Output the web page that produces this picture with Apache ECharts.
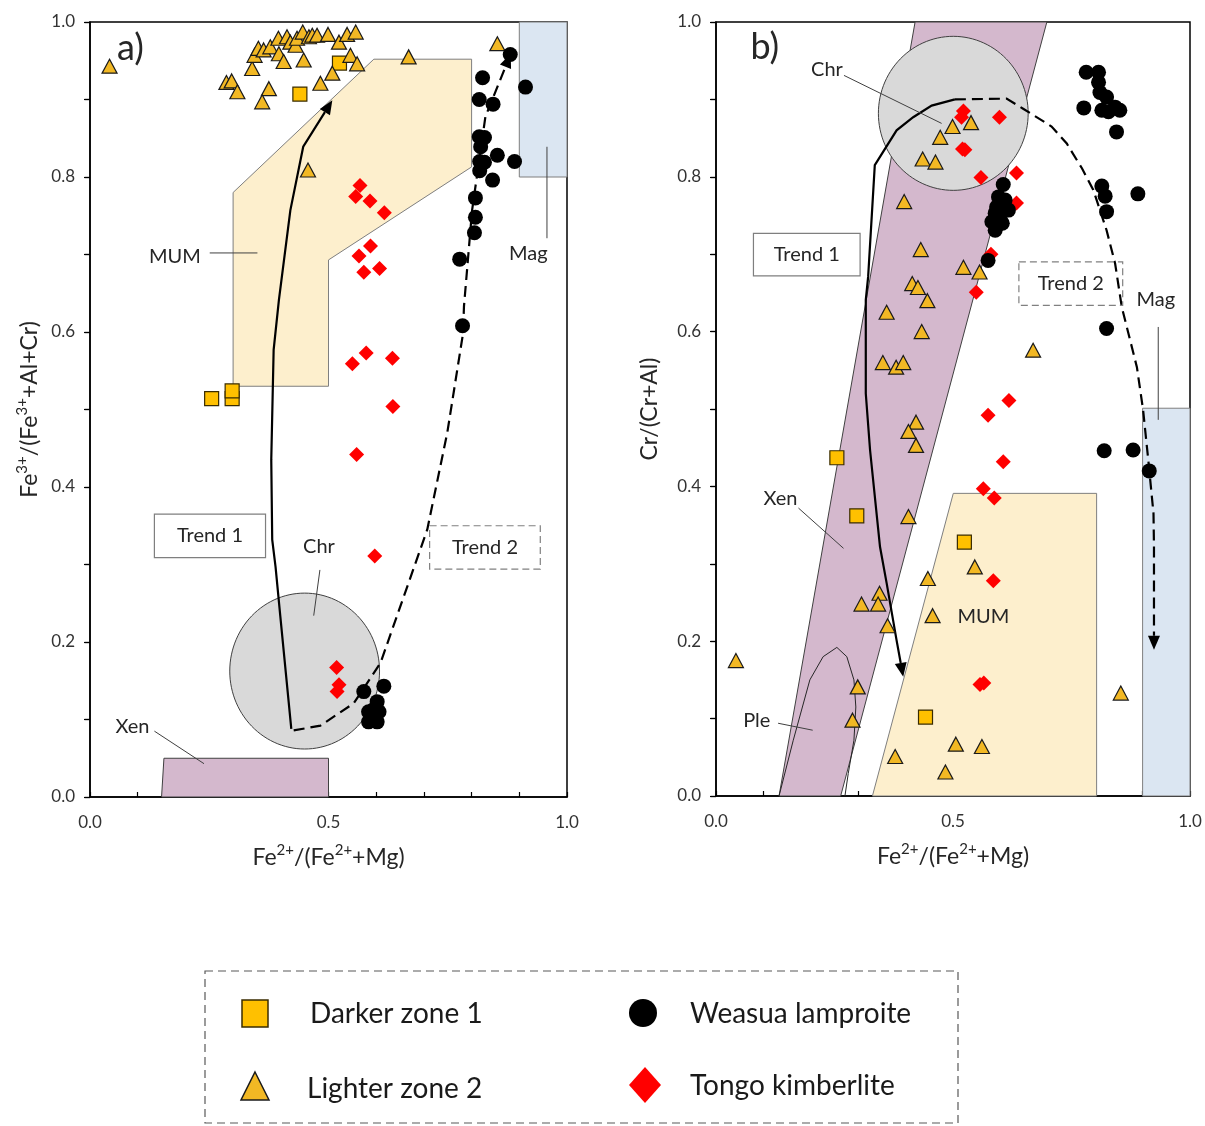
<!DOCTYPE html>
<html>
<head>
<meta charset="utf-8">
<title>Spinel compositions – Weasua lamproite and Tongo kimberlite</title>
<script src="https://cdn.jsdelivr.net/npm/echarts/dist/echarts.min.js"></script>
<style>
  html, body { margin: 0; padding: 0; background: #fff; }
  #chart { width: 1205px; height: 1126px; }
</style>
</head>
<body>
<div id="chart"></div>
<script>
// ---------- Panel a: Fe2+/(Fe2++Mg) vs Fe3+/(Fe3++Al+Cr) ----------
const aDarkerZone1 = [[0.523,0.947],[0.440,0.907],[0.255,0.514],[0.298,0.514],[0.298,0.524]];
const aLighterZone2 = [
  [0.041,0.943],[0.286,0.922],[0.297,0.924],[0.309,0.910],[0.340,0.940],[0.345,0.957],
  [0.353,0.966],[0.364,0.964],[0.378,0.968],[0.395,0.979],[0.396,0.959],[0.406,0.949],
  [0.413,0.981],[0.420,0.974],[0.431,0.970],[0.434,0.979],[0.446,0.987],[0.448,0.951],
  [0.459,0.981],[0.466,0.983],[0.476,0.983],[0.499,0.984],[0.522,0.974],[0.539,0.984],
  [0.557,0.987],[0.546,0.957],[0.560,0.946],[0.508,0.934],[0.483,0.921],[0.375,0.914],
  [0.361,0.897],[0.668,0.955],[0.854,0.972],[0.457,0.809]
];
const aWeasua = [
  [0.881,0.958],[0.913,0.916],[0.823,0.928],[0.816,0.900],[0.845,0.894],[0.816,0.852],
  [0.827,0.851],[0.819,0.839],[0.854,0.828],[0.890,0.820],[0.817,0.820],[0.827,0.819],
  [0.817,0.808],[0.844,0.796],[0.808,0.773],[0.808,0.748],[0.806,0.728],[0.775,0.694],
  [0.781,0.608],
  [0.574,0.136],[0.616,0.143],[0.602,0.123],[0.595,0.113],[0.606,0.110],[0.584,0.110],
  [0.584,0.097],[0.602,0.097]
];
const aTongo = [
  [0.566,0.789],[0.557,0.775],[0.587,0.769],[0.617,0.754],[0.588,0.711],[0.564,0.698],
  [0.607,0.682],[0.574,0.677],[0.579,0.573],[0.550,0.559],[0.634,0.566],[0.635,0.504],
  [0.559,0.442],[0.597,0.311],[0.517,0.167],[0.522,0.145],[0.518,0.136]
];

// ---------- Panel b: Fe2+/(Fe2++Mg) vs Cr/(Cr+Al) ----------
const bDarkerZone1 = [[0.255,0.437],[0.297,0.362],[0.524,0.328],[0.442,0.102]];
const bLighterZone2 = [
  [0.499,0.865],[0.538,0.870],[0.473,0.851],[0.436,0.823],[0.463,0.819],[0.397,0.768],
  [0.432,0.706],[0.522,0.683],[0.556,0.677],[0.414,0.662],[0.426,0.657],[0.446,0.640],
  [0.360,0.625],[0.434,0.600],[0.352,0.560],[0.380,0.554],[0.395,0.560],[0.422,0.483],
  [0.406,0.471],[0.422,0.453],[0.669,0.576],[0.406,0.361],[0.546,0.296],[0.447,0.281],
  [0.345,0.262],[0.307,0.248],[0.342,0.248],[0.457,0.233],[0.362,0.220],[0.042,0.175],
  [0.299,0.141],[0.288,0.098],[0.854,0.133],[0.506,0.067],[0.561,0.064],[0.378,0.051],
  [0.484,0.031]
];
const bWeasua = [
  [0.781,0.935],[0.807,0.935],[0.807,0.922],[0.810,0.909],[0.824,0.903],[0.776,0.889],
  [0.814,0.886],[0.828,0.884],[0.852,0.886],[0.842,0.890],[0.845,0.858],[0.814,0.788],
  [0.821,0.775],[0.824,0.755],[0.890,0.778],[0.606,0.790],[0.596,0.774],[0.610,0.770],
  [0.617,0.757],[0.592,0.761],[0.589,0.753],[0.599,0.748],[0.582,0.742],[0.604,0.740],
  [0.589,0.731],[0.574,0.692],[0.824,0.604],[0.819,0.446],[0.880,0.447],[0.914,0.420]
];
const bTongo = [
  [0.522,0.885],[0.518,0.877],[0.598,0.877],[0.520,0.836],[0.525,0.835],[0.559,0.799],
  [0.634,0.805],[0.634,0.766],[0.580,0.700],[0.549,0.651],[0.618,0.511],[0.574,0.492],
  [0.606,0.432],[0.564,0.397],[0.587,0.385],[0.585,0.278],[0.557,0.144],[0.565,0.146]
];

// ---------- Compositional fields ----------
const aFieldMUM = [[0.3,0.78],[0.595,0.952],[0.8,0.952],[0.8,0.813],[0.5,0.693],[0.5,0.53],[0.3,0.53]];
const aFieldMag = [[0.9,0.8],[1.0,0.8],[1.0,1.0],[0.9,1.0]];
const aFieldXen = [[0.15,0],[0.5,0],[0.5,0.05],[0.155,0.05]];
const aFieldChr = { centre: [0.45,0.1625], radius: [0.157,0.1006] };

const bFieldXen = [[0.133,0],[0.263,0],[0.698,1],[0.420,1]];
const bFieldMUM = [[0.330,0],[0.803,0],[0.803,0.391],[0.5006,0.391]];
const bFieldMag = [[0.9,0],[1.0,0],[1.0,0.501],[0.9,0.501]];
const bFieldChr = { centre: [0.5006,0.882], radius: [0.158,0.0995] };
const bFieldPle = [[0.133,0],[0.163,0.072],[0.198,0.150],[0.226,0.180],[0.255,0.192],[0.276,0.180],
                   [0.291,0.150],[0.295,0.115],[0.291,0.072],[0.279,0.029],[0.272,0]];

// ---------- Evolution trends ----------
const aTrend1 = [[0.422,0.088],[0.399,0.233],[0.389,0.297],[0.382,0.332],[0.380,0.435],[0.385,0.577],
                 [0.396,0.641],[0.420,0.757],[0.447,0.839],[0.508,0.899]];
const aTrend2 = [[0.427,0.086],[0.483,0.092],[0.553,0.121],[0.609,0.173],[0.707,0.345],[0.749,0.470],
                 [0.782,0.598],[0.784,0.633],[0.801,0.757],[0.819,0.835],[0.829,0.878],[0.882,0.959]];
const bTrend1 = [[0.504,0.900],[0.455,0.892],[0.416,0.877],[0.381,0.860],[0.335,0.815],[0.321,0.671],
                 [0.316,0.641],[0.316,0.520],[0.325,0.447],[0.346,0.322],[0.360,0.275],[0.381,0.201],
                 [0.395,0.154]];
const bTrend2 = [[0.504,0.900],[0.613,0.901],[0.648,0.888],[0.708,0.865],[0.740,0.843],[0.772,0.811],
                 [0.796,0.783],[0.824,0.731],[0.842,0.688],[0.856,0.632],[0.888,0.554],[0.901,0.499],
                 [0.912,0.434],[0.923,0.365],[0.924,0.322],[0.924,0.189]];

// ---------- Field labels and trend boxes (data coordinates) ----------
const aNotes = [
  { text: 'a)', at: [0.085,0.966], size: 36 },
  { text: 'MUM', at: [0.178,0.697], lead: [[0.251,0.702],[0.351,0.702]] },
  { text: 'Mag', at: [0.919,0.701], lead: [[0.958,0.839],[0.958,0.721]] },
  { text: 'Xen', at: [0.089,0.091], lead: [[0.135,0.085],[0.239,0.043]] },
  { text: 'Chr', at: [0.480,0.323], lead: [[0.482,0.293],[0.469,0.234]] },
  { text: 'Trend 1', at: [0.2515,0.337], box: [[0.135,0.365],[0.368,0.309]] },
  { text: 'Trend 2', at: [0.828,0.322], box: [[0.712,0.350],[0.944,0.294]], dashed: true }
];
const bNotes = [
  { text: 'b)', at: [0.103,0.967], size: 36 },
  { text: 'Chr', at: [0.234,0.938], lead: [[0.270,0.931],[0.476,0.869]] },
  { text: 'Mag', at: [0.928,0.641], lead: [[0.933,0.606],[0.933,0.486]] },
  { text: 'Xen', at: [0.136,0.384], lead: [[0.174,0.372],[0.269,0.320]] },
  { text: 'MUM', at: [0.564,0.232] },
  { text: 'Ple', at: [0.086,0.098], lead: [[0.131,0.094],[0.204,0.085]] },
  { text: 'Trend 1', at: [0.1915,0.6995], box: [[0.079,0.727],[0.304,0.672]] },
  { text: 'Trend 2', at: [0.7485,0.662], box: [[0.639,0.690],[0.858,0.634]], dashed: true }
];

const FONT = 'Lato, "Open Sans", "Noto Sans", sans-serif';
const TEXT = '#262626';
const COL = {
  mum: '#fdefcd', mag: '#dbe6f2', xen: '#d4b8cd', chr: '#d9d9d9',
  tri: '#f2b824', sq: '#ffc000', dia: '#ff0000', dot: '#000000'
};

// ---------- Custom renderers ----------
function polygonSeries(axis, pts, fill, stroke, z, closed) {
  return {
    type: 'custom', xAxisIndex: axis, yAxisIndex: axis, z: z, silent: true,
    data: pts,
    renderItem: function (params, api) {
      if (params.dataIndex !== 0) return null;
      const p = pts.map(function (d) { return api.coord(d); });
      return {
        type: closed === false ? 'polyline' : 'polygon',
        shape: { points: p },
        style: { fill: fill, stroke: stroke, lineWidth: 1 }
      };
    }
  };
}

function discSeries(axis, field, z) {
  return {
    type: 'custom', xAxisIndex: axis, yAxisIndex: axis, z: z, silent: true,
    data: [field.centre],
    renderItem: function (params, api) {
      const c = api.coord(field.centre);
      const rx = api.size([field.radius[0], 0])[0];
      const ry = api.size([0, field.radius[1]])[1];
      const p = [];
      for (let i = 0; i < 120; i++) {
        const t = i / 120 * Math.PI * 2;
        p.push([c[0] + rx * Math.cos(t), c[1] + ry * Math.sin(t)]);
      }
      return { type: 'polygon', shape: { points: p },
               style: { fill: COL.chr, stroke: '#404040', lineWidth: 1 } };
    }
  };
}

function trendSeries(axis, pts, dashed) {
  return {
    type: 'custom', xAxisIndex: axis, yAxisIndex: axis, z: 4, silent: true,
    data: pts,
    renderItem: function (params, api) {
      if (params.dataIndex !== 0) return null;
      const p = pts.map(function (d) { return api.coord(d); });
      const tip = p[p.length - 1], prev = p[p.length - 2];
      const dx = tip[0] - prev[0], dy = tip[1] - prev[1];
      const len = Math.sqrt(dx * dx + dy * dy);
      const ux = dx / len, uy = dy / len;
      const headL = 14, headW = 6;
      const base = [tip[0] - ux * headL, tip[1] - uy * headL];
      const line = p.slice(0, -1).concat([base]);
      return {
        type: 'group',
        children: [
          { type: 'polyline', shape: { points: line },
            style: { fill: 'none', stroke: '#000', lineWidth: 2.2, lineDash: dashed ? [11, 6] : null } },
          { type: 'polygon',
            shape: { points: [tip, [base[0] - uy * headW, base[1] + ux * headW], [base[0] + uy * headW, base[1] - ux * headW]] },
            style: { fill: '#000', stroke: null } }
        ]
      };
    }
  };
}

function noteSeries(axis, notes) {
  return {
    type: 'custom', xAxisIndex: axis, yAxisIndex: axis, z: 4, silent: true,
    data: notes.map(function (n) { return n.at; }),
    renderItem: function (params, api) {
      const n = notes[params.dataIndex];
      const c = api.coord(n.at);
      const kids = [{
        type: 'text', x: c[0], y: c[1],
        style: { text: n.text, fill: TEXT, fontSize: n.size || 20, fontFamily: FONT,
                 align: 'center', verticalAlign: 'middle' }
      }];
      if (n.lead) {
        const a = api.coord(n.lead[0]), b = api.coord(n.lead[1]);
        kids.push({ type: 'line', shape: { x1: a[0], y1: a[1], x2: b[0], y2: b[1] },
                    style: { stroke: '#404040', lineWidth: 1 } });
      }
      if (n.box) {
        const a = api.coord(n.box[0]), b = api.coord(n.box[1]);
        kids.push({ type: 'rect',
                    shape: { x: Math.min(a[0], b[0]), y: Math.min(a[1], b[1]),
                             width: Math.abs(b[0] - a[0]), height: Math.abs(b[1] - a[1]) },
                    style: { fill: 'none', stroke: n.dashed ? '#808080' : '#7f7f7f', lineWidth: 1.2,
                             lineDash: n.dashed ? [7, 4] : null } });
      }
      return { type: 'group', children: kids };
    }
  };
}

function scatter(axis, name, data, symbol, size, fill, stroke) {
  return {
    type: 'scatter', name: name, xAxisIndex: axis, yAxisIndex: axis, z: 6,
    data: data, symbol: symbol, symbolSize: size,
    itemStyle: { color: fill, borderColor: stroke || fill, borderWidth: stroke ? 1.2 : 0, opacity: 1 }
  };
}

// ---------- Axes ----------
const supRich = {
  n: { fontSize: 23, lineHeight: 30, fontFamily: FONT, color: TEXT },
  s: { fontSize: 15, lineHeight: 16, verticalAlign: 'top', fontFamily: FONT, color: TEXT }
};
const xName = '{n|Fe}{s|2+}{n|/(Fe}{s|2+}{n|+Mg)}';

function onEvery(v, k) {
  const t = Math.round(v * 10);
  return Math.abs(v * 10 - t) < 1e-6 && t % k === 0;
}

function xAxisFor(g) {
  return {
    type: 'value', gridIndex: g, min: 0, max: 1, interval: 0.1,
    name: xName, nameLocation: 'middle', nameGap: 46,
    nameTextStyle: { rich: supRich },
    axisLine: { onZero: false, lineStyle: { color: '#000', width: 1.5 } },
    axisTick: { inside: true, length: 5, lineStyle: { color: '#000', width: 1.2 } },
    axisLabel: { color: '#333', fontSize: 17, fontFamily: FONT, margin: 17,
                 formatter: function (v) { return onEvery(v, 5) ? v.toFixed(1) : ''; } },
    splitLine: { show: false }
  };
}

function yAxisFor(g, name, gap) {
  return {
    type: 'value', gridIndex: g, min: 0, max: 1, interval: 0.1,
    name: name, nameLocation: 'middle', nameGap: gap, nameRotate: 90,
    nameTextStyle: { rich: supRich },
    axisLine: { onZero: false, lineStyle: { color: '#000', width: 1.5 } },
    axisTick: { inside: false, length: 6, lineStyle: { color: '#000', width: 1.2 } },
    axisLabel: { color: '#333', fontSize: 17, fontFamily: FONT, margin: 15,
                 formatter: function (v) { return onEvery(v, 2) ? v.toFixed(1) : ''; } },
    splitLine: { show: false }
  };
}

// inner half of the y ticks, so they cross the axis line
function yInnerTicks(g) {
  return {
    type: 'value', gridIndex: g, min: 0, max: 1, interval: 0.1,
    axisLine: { show: false },
    axisTick: { inside: true, length: 5, lineStyle: { color: '#000', width: 1.2 } },
    axisLabel: { show: false }, splitLine: { show: false }
  };
}

const series = [
  // panel a
  polygonSeries(0, aFieldMUM, COL.mum, '#7f7f7f', 1),
  polygonSeries(0, aFieldMag, COL.mag, '#7f7f7f', 1),
  polygonSeries(0, aFieldXen, COL.xen, '#404040', 1),
  discSeries(0, aFieldChr, 2),
  trendSeries(0, aTrend1, false),
  trendSeries(0, aTrend2, true),
  noteSeries(0, aNotes),
  scatter(0, 'Darker zone 1', aDarkerZone1, 'rect', 14, COL.sq, '#3a2c00'),
  scatter(0, 'Lighter zone 2', aLighterZone2, 'triangle', [15, 14], COL.tri, '#1a1a1a'),
  scatter(0, 'Tongo kimberlite', aTongo, 'diamond', 15, COL.dia),
  scatter(0, 'Weasua lamproite', aWeasua, 'circle', 15, COL.dot),
  // panel b
  polygonSeries(1, bFieldXen, COL.xen, '#404040', 1),
  polygonSeries(1, bFieldMUM, COL.mum, '#7f7f7f', 1),
  polygonSeries(1, bFieldMag, COL.mag, '#7f7f7f', 1),
  polygonSeries(1, bFieldPle, 'none', '#262626', 2, false),
  discSeries(1, bFieldChr, 2),
  trendSeries(1, bTrend1, false),
  trendSeries(1, bTrend2, true),
  noteSeries(1, bNotes),
  scatter(1, 'Darker zone 1', bDarkerZone1, 'rect', 14, COL.sq, '#3a2c00'),
  scatter(1, 'Lighter zone 2', bLighterZone2, 'triangle', [15, 14], COL.tri, '#1a1a1a'),
  scatter(1, 'Tongo kimberlite', bTongo, 'diamond', 15, COL.dia),
  scatter(1, 'Weasua lamproite', bWeasua, 'circle', 15, COL.dot)
];

// ---------- Legend (drawn as a boxed key under both panels) ----------
const legendItems = [
  { label: 'Darker zone 1', shape: 'square', fill: COL.sq, stroke: '#3a2c00', cx: 255, cy: 1013, tx: 310 },
  { label: 'Lighter zone 2', shape: 'triangle', fill: COL.tri, stroke: '#1a1a1a', cx: 255, cy: 1088, tx: 307 },
  { label: 'Weasua lamproite', shape: 'circle', fill: COL.dot, cx: 643, cy: 1013, tx: 690 },
  { label: 'Tongo kimberlite', shape: 'diamond', fill: COL.dia, cx: 645, cy: 1085, tx: 690 }
];
const legendGraphics = [{
  type: 'rect', shape: { x: 205, y: 971, width: 753, height: 152 },
  style: { fill: 'none', stroke: '#595959', lineWidth: 1.2, lineDash: [8, 5] }
}];
legendItems.forEach(function (it) {
  const x = it.cx, y = it.cy;
  let g;
  if (it.shape === 'square') {
    g = { type: 'rect', shape: { x: x - 13, y: y - 13, width: 26, height: 27 } };
  } else if (it.shape === 'triangle') {
    g = { type: 'polygon', shape: { points: [[x, y - 16], [x + 14, y + 12], [x - 14, y + 12]] } };
  } else if (it.shape === 'circle') {
    g = { type: 'circle', shape: { cx: x, cy: y, r: 14 } };
  } else {
    g = { type: 'polygon', shape: { points: [[x, y - 18], [x + 16, y], [x, y + 18], [x - 16, y]] } };
  }
  g.style = { fill: it.fill, stroke: it.stroke || null, lineWidth: 1.5 };
  legendGraphics.push(g);
  legendGraphics.push({
    type: 'text', x: it.tx, y: y + 1,
    style: { text: it.label, fill: '#1a1a1a', fontSize: 28, fontFamily: FONT, verticalAlign: 'middle' }
  });
});

const chart = echarts.init(document.getElementById('chart'), null, { renderer: 'canvas' });
chart.setOption({
  animation: false,
  backgroundColor: '#ffffff',
  textStyle: { fontFamily: FONT },
  grid: [
    { left: 90, top: 22, width: 477, height: 775, show: true, borderColor: '#000', borderWidth: 1.5, backgroundColor: 'transparent' },
    { left: 716, top: 22, width: 474, height: 774, show: true, borderColor: '#000', borderWidth: 1.5, backgroundColor: 'transparent' }
  ],
  xAxis: [xAxisFor(0), xAxisFor(1)],
  yAxis: [
    yAxisFor(0, '{n|Fe}{s|3+}{n|/(Fe}{s|3+}{n|+Al+Cr)}', 45),
    yAxisFor(1, '{n|Cr/(Cr+Al)}', 51),
    yInnerTicks(0),
    yInnerTicks(1)
  ],
  series: series,
  graphic: legendGraphics
});
</script>
</body>
</html>
